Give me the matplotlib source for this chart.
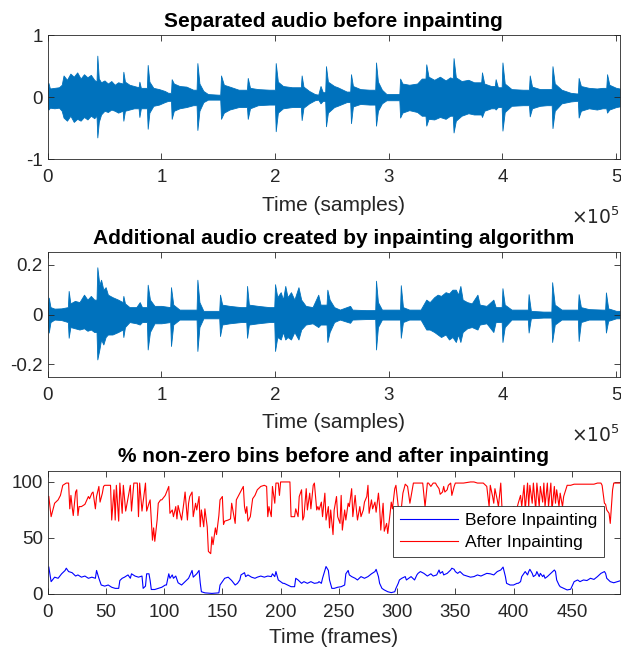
import numpy as np
import matplotlib.pyplot as plt

plt.rcParams['font.family'] = ['Liberation Sans', 'DejaVu Sans']

# --- waveform envelopes (samples, upper, lower) ---
sep_t = [0, 700, 2000, 6000, 10000, 12400, 14000, 17000, 20000, 23000, 26000, 29000,
         32000, 35000, 38000, 41000, 43000, 43700, 45000, 47000, 50000, 53000, 56000,
         59000, 62000, 66000, 66600, 68000, 72000, 76000, 80000, 80700, 82000, 87300,
         88000, 89500, 93000, 98000, 103000, 106000, 108500, 109100, 111000, 116000,
         122000, 128000, 131000, 131700, 133500, 137000, 141000, 150000, 151800, 152500,
         155000, 160000, 168000, 175300, 176000, 178000, 185000, 195000, 199900, 200600,
         202500, 207000, 215000, 222700, 223400, 225000, 230000, 235000, 238000, 240000,
         242000, 244100, 244800, 246500, 252000, 255000, 263000, 266100, 266800, 268500,
         275000, 283000, 288100, 288800, 290500, 294000, 298000, 306000, 309300, 310000,
         312000, 318000, 325000, 329000, 332300, 333000, 335000, 340000, 345000, 350000,
         354000, 356300, 357000, 359000, 364000, 370000, 375000, 381300, 382000, 384000,
         390000, 393300, 394000, 396000, 399300, 400000, 402000, 408000, 418000, 423300,
         424000, 426000, 433000, 439000, 443300, 444000, 446000, 452000, 460000, 465000,
         466300, 467000, 469000, 476000, 483000, 488000, 491300, 492000, 494000, 500000,
         503000]
sep_hi = [0.15, 0.23, 0.14, 0.15, 0.16, 0.20, 0.35, 0.28, 0.38, 0.33, 0.40, 0.30,
          0.37, 0.32, 0.36, 0.28, 0.25, 0.67, 0.30, 0.24, 0.27, 0.22, 0.26,
          0.20, 0.24, 0.22, 0.41, 0.25, 0.20, 0.18, 0.16, 0.25, 0.15, 0.15,
          0.52, 0.25, 0.15, 0.13, 0.10, 0.07, 0.07, 0.29, 0.22, 0.18,
          0.17, 0.12, 0.12, 0.55, 0.22, 0.10, 0.05, 0.04, 0.04, 0.35,
          0.20, 0.17, 0.12, 0.12, 0.31, 0.15, 0.13, 0.12, 0.12, 0.55,
          0.25, 0.18, 0.16, 0.16, 0.35, 0.17, 0.10, 0.05, 0.04, 0.18,
          0.08, 0.08, 0.50, 0.25, 0.18, 0.16, 0.09, 0.09, 0.37, 0.18,
          0.13, 0.12, 0.12, 0.56, 0.25, 0.12, 0.05, 0.05, 0.05, 0.30,
          0.22, 0.20, 0.22, 0.30, 0.30, 0.53, 0.33, 0.28, 0.33, 0.27,
          0.32, 0.30, 0.63, 0.32, 0.26, 0.28, 0.24, 0.24, 0.40, 0.22,
          0.18, 0.18, 0.29, 0.16, 0.16, 0.56, 0.22, 0.13, 0.12, 0.12,
          0.35, 0.17, 0.13, 0.13, 0.13, 0.50, 0.22, 0.12, 0.07, 0.06,
          0.06, 0.31, 0.18, 0.15, 0.14, 0.15, 0.15, 0.37, 0.20, 0.15,
          0.14]
sep_lo = [-0.15, -0.20, -0.17, -0.18, -0.17, -0.22, -0.33, -0.38, -0.30, -0.40, -0.35, -0.38,
          -0.32, -0.36, -0.30, -0.34, -0.30, -0.65, -0.40, -0.28, -0.22, -0.24, -0.20,
          -0.22, -0.25, -0.22, -0.38, -0.22, -0.20, -0.18, -0.18, -0.32, -0.18, -0.18,
          -0.51, -0.25, -0.14, -0.12, -0.08, -0.06, -0.06, -0.35, -0.22, -0.18,
          -0.16, -0.13, -0.13, -0.53, -0.22, -0.08, -0.04, -0.04, -0.04, -0.35,
          -0.25, -0.20, -0.16, -0.16, -0.35, -0.18, -0.13, -0.12, -0.12, -0.55,
          -0.25, -0.18, -0.16, -0.16, -0.37, -0.17, -0.10, -0.05, -0.04, -0.10,
          -0.06, -0.06, -0.47, -0.25, -0.16, -0.14, -0.08, -0.08, -0.42, -0.15,
          -0.11, -0.12, -0.12, -0.46, -0.22, -0.10, -0.05, -0.05, -0.05, -0.33,
          -0.25, -0.21, -0.24, -0.30, -0.30, -0.46, -0.35, -0.36, -0.32, -0.35,
          -0.30, -0.30, -0.57, -0.38, -0.30, -0.26, -0.28, -0.28, -0.32, -0.22,
          -0.18, -0.18, -0.20, -0.16, -0.16, -0.54, -0.24, -0.14, -0.13, -0.13,
          -0.31, -0.18, -0.14, -0.13, -0.13, -0.50, -0.22, -0.10, -0.07, -0.06,
          -0.06, -0.33, -0.22, -0.18, -0.20, -0.18, -0.18, -0.25, -0.20, -0.16,
          -0.15]

add_t = [0, 1000, 2500, 6000, 12000, 17800, 18500, 20000, 24000, 28000, 32000, 35000,
         38000, 41000, 43000, 43700, 45500, 47000, 49000, 51000, 53000, 57000, 62000,
         66000, 66600, 68000, 72000, 78000, 81000, 83000, 87300, 88000, 90000, 94000,
         100000, 107800, 108500, 110500, 116000, 126000, 131000, 131700, 133500, 137000,
         148000, 150900, 151600, 153500, 160000, 170000, 174700, 175400, 177000, 185000,
         195000, 199300, 200000, 202000, 205000, 207000, 209000, 211000, 214000, 217000,
         220600, 223000, 227000, 233000, 238000, 240000, 245300, 246000, 248000, 252000,
         257000, 266000, 268000, 280000, 288100, 288800, 290500, 294000, 305000, 309900,
         310600, 312500, 318000, 328000, 333000, 336000, 340000, 343000, 346000, 350000,
         353000, 356000, 359000, 361000, 363000, 365000, 369000, 373000, 378000, 380000,
         386000, 392000, 394000, 399300, 400000, 402000, 408000, 418000, 422300, 423000,
         425000, 436000, 443000, 443700, 446000, 452000, 465000, 466300, 467000, 469000,
         476000, 488000, 490300, 491000, 493000, 500000, 503000]
add_hi = [0.03, 0.068, 0.03, 0.024, 0.025, 0.03, 0.095, 0.045, 0.055, 0.05, 0.08, 0.06,
          0.075, 0.06, 0.06, 0.19, 0.12, 0.14, 0.10, 0.11, 0.08, 0.07, 0.06,
          0.05, 0.075, 0.045, 0.03, 0.03, 0.05, 0.03, 0.03, 0.12, 0.06, 0.035,
          0.035, 0.03, 0.11, 0.04, 0.02, 0.02, 0.02, 0.14, 0.05, 0.015,
          0.015, 0.015, 0.08, 0.04, 0.035, 0.03, 0.03, 0.115, 0.04, 0.035,
          0.03, 0.03, 0.122, 0.07, 0.09, 0.06, 0.115, 0.07, 0.09, 0.06,
          0.11, 0.06, 0.035, 0.03, 0.08, 0.04, 0.04, 0.10, 0.06, 0.03,
          0.02, 0.035, 0.02, 0.018, 0.018, 0.136, 0.05, 0.02, 0.02, 0.02,
          0.118, 0.03, 0.02, 0.02, 0.06, 0.05, 0.07, 0.08, 0.075, 0.09,
          0.085, 0.10, 0.10, 0.08, 0.115, 0.06, 0.05, 0.045, 0.08, 0.04,
          0.035, 0.06, 0.03, 0.03, 0.106, 0.04, 0.02, 0.02, 0.02, 0.082,
          0.015, 0.012, 0.012, 0.13, 0.04, 0.02, 0.02, 0.02, 0.082, 0.03,
          0.022, 0.02, 0.02, 0.089, 0.025, 0.015, 0.015]
add_lo = [-0.03, -0.072, -0.03, -0.02, -0.022, -0.03, -0.093, -0.05, -0.055, -0.06, -0.055, -0.065,
          -0.06, -0.07, -0.07, -0.18, -0.14, -0.10, -0.12, -0.09, -0.08, -0.08, -0.07,
          -0.06, -0.09, -0.05, -0.03, -0.035, -0.04, -0.03, -0.03, -0.14, -0.07, -0.035,
          -0.035, -0.03, -0.126, -0.04, -0.02, -0.02, -0.02, -0.146, -0.05, -0.015,
          -0.015, -0.015, -0.086, -0.04, -0.035, -0.03, -0.03, -0.093, -0.04, -0.035,
          -0.03, -0.03, -0.146, -0.09, -0.10, -0.07, -0.10, -0.09, -0.10, -0.07,
          -0.10, -0.06, -0.04, -0.035, -0.05, -0.04, -0.04, -0.11, -0.07, -0.03,
          -0.02, -0.033, -0.02, -0.018, -0.018, -0.14, -0.05, -0.02, -0.02, -0.02,
          -0.093, -0.03, -0.02, -0.02, -0.06, -0.06, -0.07, -0.08, -0.09, -0.08,
          -0.10, -0.09, -0.11, -0.08, -0.11, -0.07, -0.055, -0.05, -0.06, -0.04,
          -0.035, -0.07, -0.03, -0.03, -0.11, -0.05, -0.02, -0.02, -0.02, -0.072,
          -0.015, -0.012, -0.012, -0.11, -0.04, -0.02, -0.02, -0.02, -0.106, -0.03,
          -0.02, -0.02, -0.02, -0.072, -0.025, -0.015, -0.015]

n_samples = 503000

# --- % non-zero bins per frame ---
after_f = [1, 3, 6, 9, 11, 13, 16, 18, 19, 20, 21, 22, 24, 25, 26, 27, 29, 32, 35, 36,
           38, 39, 41, 42, 44, 45, 47, 48, 49, 52, 54, 55, 57, 58, 59, 61, 62, 64, 65, 67,
           71, 72, 74, 75, 77, 78, 79, 81, 84, 85, 87, 88, 90, 91, 92, 94, 95, 97, 98, 101,
           104, 105, 107, 108, 110, 111, 112, 115, 117, 118, 120, 121, 122, 124, 125, 127,
           128, 130, 131, 132, 134, 135, 137, 138, 140, 141, 142, 144, 145, 147, 148, 150,
           151, 152, 155, 157, 158, 161, 162, 164, 167,
           168, 169, 170, 171, 172, 174, 176, 178, 180, 183, 186, 188, 189, 190, 192, 193,
           195, 196, 198, 199, 200, 203, 208, 209, 212, 213, 215, 216, 218, 219, 220, 222,
           223, 225, 226, 228, 229, 231, 232, 233, 235, 236, 238, 239, 241, 242, 243, 245,
           246, 248, 249, 251, 252, 253, 255, 256, 258, 259, 261, 262, 264, 265, 266, 268,
           269, 271, 272, 274, 275, 276, 278, 279, 281, 282, 284, 285, 286, 288, 289, 291,
           292, 294, 295, 296, 298, 299, 301, 303, 305, 307, 309, 311, 314, 315,
           320, 322, 324, 326, 327, 329, 331, 333, 334, 336, 337, 339, 340, 341, 343, 344,
           346, 347, 349, 350, 353, 357, 363, 366, 369, 372, 374, 377, 379, 380, 382, 383,
           384, 386, 387, 389, 390, 392, 394, 397, 400, 403, 404, 406, 407, 409, 410, 412,
           413, 414, 416, 417, 419, 420, 422, 423, 425, 426, 427, 429, 430, 432, 433, 435,
           436, 437, 439, 440, 442, 443, 446, 449, 452, 457, 463, 469, 472, 475, 476, 478,
           479, 480, 482, 483, 485, 486, 488, 489, 491]
after_v = [87, 69, 81, 84, 88, 97, 99, 99, 76, 88, 78, 70, 91, 93, 70, 78, 78, 80, 87, 85,
           90, 91, 76, 87, 96, 82, 90, 96, 97, 97, 97, 66, 93, 66, 97, 65, 99, 72, 97, 74,
           97, 74, 99, 99, 99, 69, 99, 74, 99, 74, 81, 84, 48, 59, 47, 66, 81, 84, 84, 88,
           96, 72, 75, 69, 78, 67, 79, 66, 82, 91, 66, 81, 87, 91, 69, 81,
           75, 87, 60, 75, 60, 76, 60, 38, 36, 51, 44, 59, 53, 70, 84, 87,
           62, 65, 66, 67, 81, 63, 84, 88, 94,
           96, 78, 72, 78, 65, 69, 85, 88, 93, 96, 97, 96, 69, 78, 69, 96,
           81, 99, 99, 88, 100, 100, 100, 69, 69, 76, 69, 87, 93, 66, 69, 94,
           75, 90, 76, 97, 99, 75, 78, 75, 82, 69, 90, 66, 78, 59, 75, 53,
           75, 87, 69, 63, 88, 57, 75, 66, 81, 78, 94, 69, 88, 76, 66, 78,
           69, 75, 82, 87, 97, 72, 84, 76, 82, 73, 90, 78, 57, 81, 56, 63,
           54, 72, 82, 76, 94, 97, 78, 70, 90, 98, 96, 81, 99, 99,
           99, 99, 78, 99, 99, 96, 99, 99, 97, 94, 89, 91, 96, 91, 93, 97,
           99, 88, 96, 99, 99, 99, 100, 100, 99, 99, 99, 96, 78, 97, 87, 81,
           94, 84, 78, 99, 78, 75, 70, 75, 78, 77, 81, 88, 78, 97, 75, 99,
           78, 97, 81, 99, 75, 99, 78, 96, 82, 99, 78, 99, 78, 99, 75, 96,
           81, 93, 78, 90, 78, 87, 97, 97, 98, 98, 98, 98, 99, 99, 97, 81,
           80, 75, 72, 63, 93, 99, 99, 99, 99]

before_f = [1, 3, 6, 9, 12, 15, 16, 18, 21, 24, 26, 29, 32, 35, 38, 41, 42, 44, 46, 49,
            52, 55, 58, 61, 62, 64, 66, 69, 71, 72, 75, 78, 81, 82, 84, 85, 87, 88, 89, 92,
            95, 98, 101, 102, 104, 105, 107, 108, 110, 112, 115, 118, 121, 124, 125, 128,
            130, 131, 132, 135, 141, 147, 148, 150, 152, 155, 158,
            161, 163, 165, 166, 169, 170, 172, 175, 178, 180, 183, 186, 189, 192, 193, 195,
            196, 198, 200, 202, 203, 206, 209, 212, 213, 215, 218, 220, 223, 226, 229, 232,
            233, 235, 236, 238, 239, 241, 242, 244, 246, 249, 252, 255, 256, 258, 259, 261,
            264, 266, 269, 272, 275, 278, 281, 282, 284, 285, 287, 289, 292, 295, 298, 299,
            301, 302, 304, 307, 308, 310, 312, 315, 317, 318,
            320, 323, 326, 329, 331, 334, 336, 337, 339, 340, 343, 346, 347, 349, 350, 352,
            354, 357, 360, 363, 366, 369, 372, 374, 377, 380, 383, 386, 389, 391, 393, 394,
            397, 400, 403, 404, 406, 407, 409, 410, 412, 413, 414, 416, 417, 419, 420, 422,
            423, 425, 426, 427, 429, 432, 435, 436, 437, 439, 440, 443, 446, 449, 450, 452,
            455, 457, 460, 463, 466, 469, 472, 475, 478, 479, 480, 483, 486, 489, 491]
before_v = [24, 11, 15, 14, 18, 21, 23, 20, 19, 16, 17, 15, 16, 14, 15, 14, 21, 14, 8, 7,
            8, 6, 5, 5, 12, 14, 15, 17, 14, 18, 16, 15, 16, 5, 7, 18, 18, 12, 4, 4,
            5, 6, 8, 8, 18, 14, 17, 14, 16, 10, 8, 11, 14, 21, 15, 18,
            21, 10, 2, 1, 0.5, 1, 8, 11, 14, 15, 12,
            8, 9.5, 12.5, 17, 19, 15.5, 17, 15, 14, 15, 16, 15, 16, 15.5, 18, 15.5,
            20, 12.5, 11, 9.5, 9.5, 8, 6.5, 6.5, 14, 12.5, 9.5, 11, 9.5, 11, 9.5, 10,
            11, 9.5, 14, 21, 24.5, 21, 12.5, 5, 5, 6, 6.5, 8, 18, 21, 17, 15.5,
            14, 12.5, 15.5, 14, 15.5, 18, 20, 22, 15.5, 9.5, 5, 3.6, 2, 1.2, 2, 5,
            9.5, 12.5, 14, 15.5, 12.5, 14, 15.5, 12.5, 17, 18.4,
            20, 18.4, 16, 18, 16, 17, 21.4, 18.4, 20, 17, 18.4, 21.4, 23, 22, 20, 18.4,
            20, 17, 16, 15, 15.5, 17, 16, 17, 18.4, 18, 17, 20, 21.4, 24, 15.5, 9.5,
            8, 8, 9.5, 9.5, 11, 15.5, 18.4, 20, 17, 20, 22, 18.4, 15.5, 17, 20, 15.5,
            18.4, 15.5, 17, 14, 15.5, 18.4, 21.4, 20, 12.5, 8, 6.5, 5, 3.6, 4.2, 6.5, 11,
            12.5, 11, 12.5, 12, 14, 13, 15.5, 18.4, 20, 18.4, 14, 11, 10, 11, 11.6]
n_frames = 491

wave_color = '#0072BD'
ink = '#262626'


def style(ax):
    ax.tick_params(direction='in', top=True, right=True, length=4, width=0.6,
                   colors=ink, labelsize=13.5)
    ax.tick_params(axis='x', pad=7)
    for s in ax.spines.values():
        s.set_color(ink)
        s.set_linewidth(0.6)


fig = plt.figure(figsize=(6.21, 6.52), dpi=100)
left, width = 0.0767, 0.921

ax1 = fig.add_axes([left, 0.756, width, 0.190])
ax1.fill_between(sep_t, sep_lo, sep_hi, color=wave_color, lw=0.6, edgecolor=wave_color)
ax1.set_xlim(0, n_samples)
ax1.set_ylim(-1, 1)
ax1.set_yticks([-1, 0, 1])
ax1.set_yticklabels(['-1', '0', '1'])
ax1.set_xticks([i * 1e5 for i in range(6)])
ax1.set_xticklabels([str(i) for i in range(6)])
ax1.set_title('Separated audio before inpainting', fontsize=15, fontweight='bold', color='black', pad=6)
ax1.set_xlabel('Time (samples)', fontsize=15, color=ink, labelpad=7)
ax1.text(1.0, -0.47, r'$\times10^{5}$', transform=ax1.transAxes, ha='right', va='center',
         fontsize=13.5, color=ink)
style(ax1)

ax2 = fig.add_axes([left, 0.422, width, 0.191])
ax2.fill_between(add_t, add_lo, add_hi, color=wave_color, lw=0.6, edgecolor=wave_color)
ax2.set_xlim(0, n_samples)
ax2.set_ylim(-0.25, 0.25)
ax2.set_yticks([-0.2, 0, 0.2])
ax2.set_yticklabels(['-0.2', '0', '0.2'])
ax2.set_xticks([i * 1e5 for i in range(6)])
ax2.set_xticklabels([str(i) for i in range(6)])
ax2.set_title('Additional audio created by inpainting algorithm', fontsize=15, fontweight='bold', color='black', pad=6)
ax2.set_xlabel('Time (samples)', fontsize=15, color=ink, labelpad=7)
ax2.text(1.0, -0.47, r'$\times10^{5}$', transform=ax2.transAxes, ha='right', va='center',
         fontsize=13.5, color=ink)
style(ax2)

ax3 = fig.add_axes([left, 0.089, width, 0.189])
ax3.plot(before_f, before_v, color='#0000FF', lw=0.8, label='Before Inpainting')
ax3.plot(after_f, after_v, color='#FF0000', lw=0.8, label='After Inpainting')
ax3.set_xlim(0, n_frames)
ax3.set_ylim(0, 110)
ax3.set_yticks([0, 50, 100])
ax3.set_xticks(range(0, 451, 50))
ax3.set_title('% non-zero bins before and after inpainting', fontsize=15, fontweight='bold', color='black', pad=6)
ax3.set_xlabel('Time (frames)', fontsize=15, color=ink, labelpad=5)
style(ax3)
leg = ax3.legend(loc='upper left', bbox_to_anchor=(0.604, 0.715), borderaxespad=0,
                 fontsize=12.6, handlelength=3.3, handletextpad=0.4, labelspacing=0.4,
                 borderpad=0.4, fancybox=False, framealpha=1, edgecolor=ink)
leg.get_frame().set_linewidth(0.6)

fig.savefig('out.png', dpi=100)
